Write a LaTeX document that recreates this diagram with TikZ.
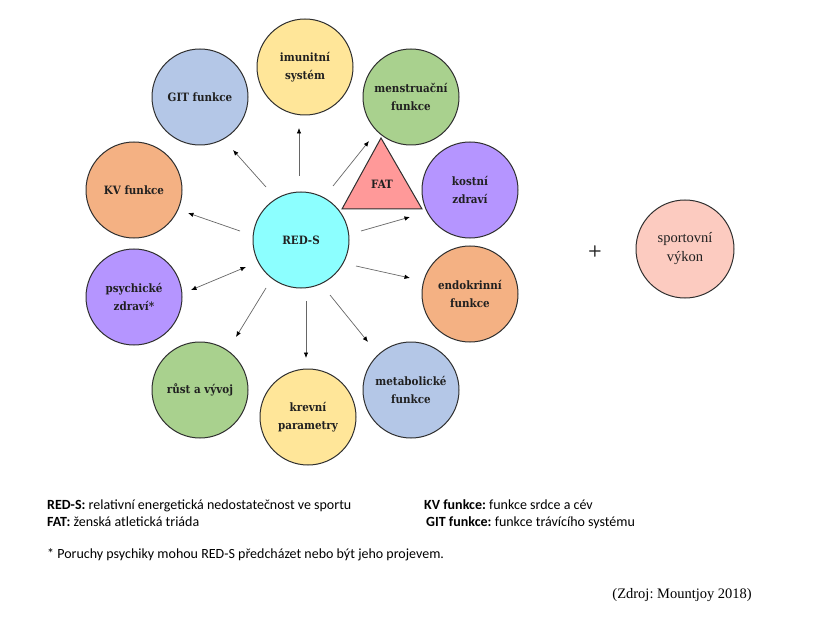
\documentclass[tikz,border=0pt]{standalone}
\usepackage{fontspec}
\setmainfont{Liberation Serif}
\newfontfamily\calib{Carlito}
\newfontfamily\nodefont{DejaVu Serif Condensed}
\usetikzlibrary{arrows.meta}
\definecolor{cblue}{HTML}{B4C7E7}
\definecolor{cyell}{HTML}{FFE699}
\definecolor{cgreen}{HTML}{A9D18E}
\definecolor{cpurp}{HTML}{B595FF}
\definecolor{corange}{HTML}{F4B183}
\definecolor{ccyan}{HTML}{8CFFFF}
\definecolor{cpink}{HTML}{FF9999}
\definecolor{csport}{HTML}{FCCBC0}
\definecolor{cedge}{HTML}{2F2F2F}
\definecolor{ctext}{HTML}{202020}
\tikzset{
  bubble/.style={circle, draw=cedge, line width=1pt, minimum size=96pt, inner sep=0pt,
    align=center, font=\nodefont\fontsize{11.5}{17.5}\selectfont\bfseries, text=ctext},
  conn/.style={draw=black!60, line width=0.7pt, -{Latex[black,length=5.5pt,width=4.5pt]}},
  dconn/.style={draw=black!60, line width=0.7pt, {Latex[black,length=5.5pt,width=4.5pt]}-{Latex[black,length=5.5pt,width=4.5pt]}},
  legend/.style={anchor=base west, inner sep=0pt, font=\calib\fontsize{14}{16}\selectfont},
}
\begin{document}
\frenchspacing
\begin{tikzpicture}[x=1pt,y=-1pt]
\useasboundingbox (0,0) rectangle (820,623);
% circles
\node[bubble, fill=ccyan] (reds) at (301,240) {RED-S};
\node[bubble, fill=cyell] (imun) at (305,67) {imunitní\\systém};
\node[bubble, fill=cblue] (git) at (200,97) {GIT funkce};
\node[bubble, fill=cgreen] (mens) at (411,97) {menstruační\\funkce};
\node[bubble, fill=cpurp] (kost) at (470,190) {kostní\\zdraví};
\node[bubble, fill=corange] (endo) at (470,294) {endokrinní\\funkce};
\node[bubble, fill=cblue] (meta) at (411,390) {metabolické\\funkce};
\node[bubble, fill=cyell] (krev) at (308,417) {krevní\\parametry};
\node[bubble, fill=cgreen] (rust) at (200,390) {růst a vývoj};
\node[bubble, fill=cpurp] (psych) at (134,297) {psychické\\zdraví*};
\node[bubble, fill=corange] (kv) at (134,190) {KV funkce};
\node[bubble, fill=csport, minimum size=98pt, font=\fontsize{14.5}{19}\selectfont] (sport) at (685,249) {sportovní\\výkon};
\node[font=\sffamily\bfseries\fontsize{16}{16}\selectfont, text=ctext] (plus) at (595,251) {+};
% FAT triangle
\coordinate (ta) at (381,138);
\coordinate (tl) at (342,209);
\coordinate (tr) at (422,209);
\draw[fill=cpink, draw=cedge, line width=1pt, line join=miter] (ta) -- (tl) -- (tr) -- cycle;
\node[font=\nodefont\fontsize{11.5}{15}\selectfont\bfseries, text=ctext] (fat) at (382,184) {FAT};
% arrow end points
\coordinate (s1) at (299,176); \coordinate (e1) at (299,128);
\coordinate (s2) at (266,187); \coordinate (e2) at (233,150);
\coordinate (s3) at (333,186); \coordinate (e3) at (369,141);
\coordinate (s4) at (240,231); \coordinate (e4) at (188,213);
\coordinate (s5) at (361,231); \coordinate (e5) at (410,217);
\coordinate (s6) at (246,267); \coordinate (e6) at (191,290);
\coordinate (s7) at (356,266); \coordinate (e7) at (410,278);
\coordinate (s8) at (266,288); \coordinate (e8) at (236,337);
\coordinate (s9) at (306,301); \coordinate (e9) at (306,358);
\coordinate (s10) at (330,295); \coordinate (e10) at (368,342);
\draw[conn] (s1) -- (e1);
\draw[conn] (s2) -- (e2);
\draw[conn] (s3) -- (e3);
\draw[conn] (s4) -- (e4);
\draw[conn] (s5) -- (e5);
\draw[dconn] (s6) -- (e6);
\draw[conn] (s7) -- (e7);
\draw[conn] (s8) -- (e8);
\draw[conn] (s9) -- (e9);
\draw[conn] (s10) -- (e10);
% legend
\node[legend] (l1) at (47,509) {\textbf{RED-S:} relativní energetická nedostatečnost ve sportu};
\node[legend] (l2) at (47,526) {\textbf{FAT:} ženská atletická triáda};
\node[legend] (l3) at (424,509) {\textbf{KV funkce:} funkce srdce a cév};
\node[legend] (l4) at (426,526) {\textbf{GIT funkce:} funkce trávícího systému};
\node[legend] (l5) at (47,558) {* Poruchy psychiky mohou RED-S předcházet nebo být jeho projevem.};
\node[anchor=base east, inner sep=0pt, font=\fontsize{14.5}{16}\selectfont] (src) at (752,598) {(Zdroj: Mountjoy 2018)};
\end{tikzpicture}
\end{document}
